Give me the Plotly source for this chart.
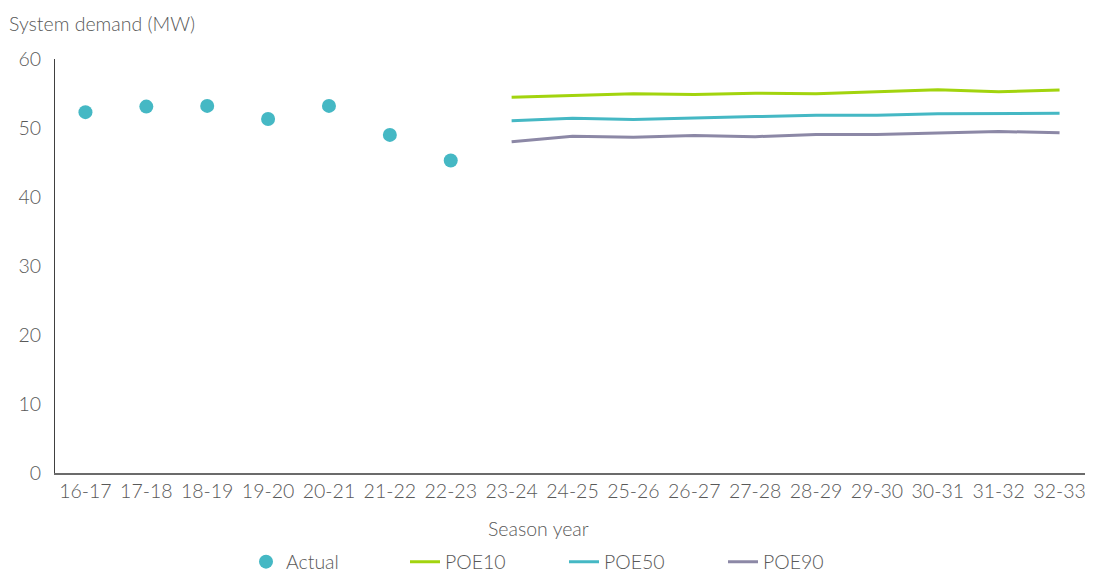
import plotly.graph_objects as go

categories = ["16-17", "17-18", "18-19", "19-20", "20-21", "21-22", "22-23", "23-24",
              "24-25", "25-26", "26-27", "27-28", "28-29", "29-30", "30-31", "31-32", "32-33"]
actual_years = categories[:7]
actual = [52.3, 53.1, 53.2, 51.3, 53.2, 49.0, 45.3]
forecast_years = categories[7:]
poe10 = [54.45, 54.75, 54.95, 54.85, 55.05, 54.95, 55.2, 55.55, 55.25, 55.5]
poe50 = [51.05, 51.4, 51.25, 51.5, 51.65, 51.85, 51.85, 52.05, 52.05, 52.15]
poe90 = [48.0, 48.8, 48.65, 48.9, 48.75, 49.05, 49.05, 49.25, 49.5, 49.3]

TEAL = "#45B8C4"
LIME = "#A2D40E"
PURPLE = "#8C88A6"
TXT = "#595959"
FONT = "Lato Light, Lato, sans-serif"
FS = 19.5

fig = go.Figure()
fig.add_trace(go.Scatter(x=actual_years, y=actual, mode="markers", name="Actual",
                         marker=dict(color=TEAL, size=14)))
fig.add_trace(go.Scatter(x=forecast_years, y=poe10, mode="lines", name="POE10",
                         line=dict(color=LIME, width=3)))
fig.add_trace(go.Scatter(x=forecast_years, y=poe50, mode="lines", name="POE50",
                         line=dict(color=TEAL, width=3)))
fig.add_trace(go.Scatter(x=forecast_years, y=poe90, mode="lines", name="POE90",
                         line=dict(color=PURPLE, width=3)))

# page body has an 8px margin, so the figure is sized to fit the rest of the window
fig.update_layout(
    width=1085, height=564,
    margin=dict(l=47, r=3, t=51, b=99, autoexpand=False),
    paper_bgcolor="white", plot_bgcolor="white",
    font=dict(family=FONT, size=FS, color=TXT, weight=300),
    showlegend=True,
    legend=dict(orientation="h", x=(246 - 55) / 1035, xanchor="left",
                y=-89 / 414, yanchor="middle",
                entrywidth=114, font=dict(size=FS, color=TXT, family=FONT, weight=300),
                traceorder="normal"),
    xaxis=dict(type="category", categoryorder="array", categoryarray=categories,
               range=[-0.5, 16.5], showgrid=False, showline=True, linecolor="#6b6b6b",
               linewidth=2, ticks="", automargin=False, tickfont=dict(size=FS, color=TXT)),
    yaxis=dict(range=[0, 60], dtick=10, showgrid=False, showline=True, linecolor="#404040",
               linewidth=1, ticks="", zeroline=False, automargin=False,
               tickfont=dict(size=FS, color=TXT), ticklabelstandoff=9),
    annotations=[
        dict(text="System demand (MW)", xref="paper", yref="paper",
             x=-48 / 1035, y=1 + 36 / 414, xanchor="left", yanchor="middle",
             showarrow=False, font=dict(size=FS, color=TXT, family=FONT, weight=300)),
        dict(text="Season year", xref="paper", yref="paper",
             x=(538 - 55) / 1035, y=-(528 - 473) / 414, xanchor="center", yanchor="middle",
             showarrow=False, font=dict(size=FS, color=TXT, family=FONT, weight=300)),
    ],
)

fig.write_html("out.html")
